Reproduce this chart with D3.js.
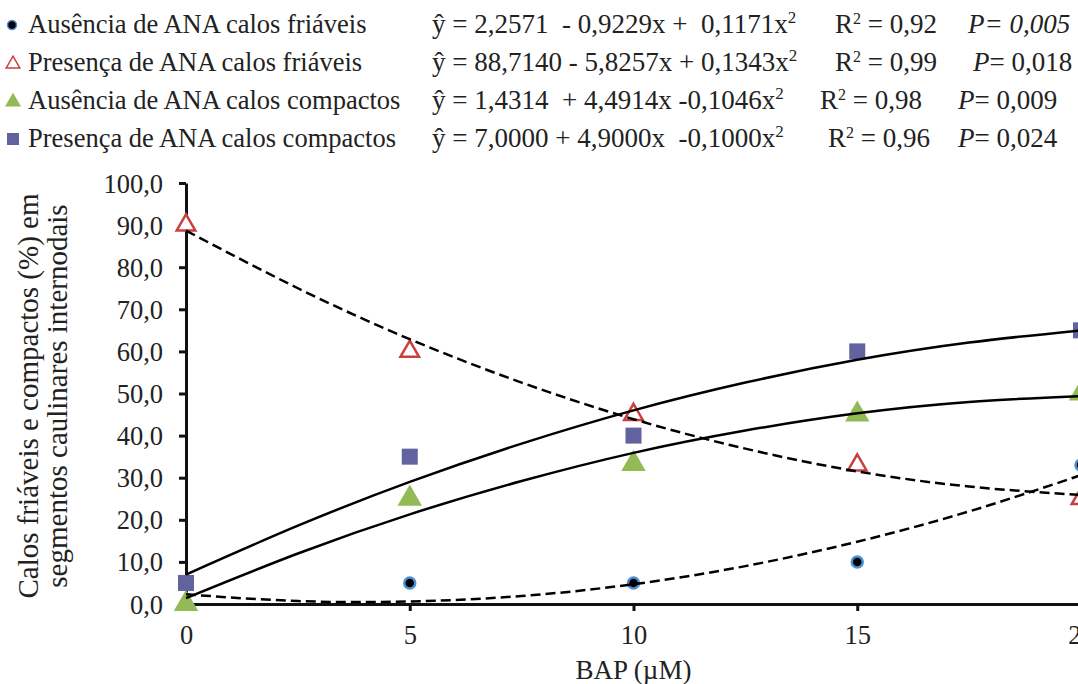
<!DOCTYPE html>
<html>
<head>
<meta charset="utf-8">
<script src="https://cdn.jsdelivr.net/npm/d3@7.9.0/dist/d3.min.js"></script>
<style>
  body { margin: 0; background: #fff; }
  svg { display: block; }
  svg text { white-space: pre; }
</style>
</head>
<body>
<div id="chart"></div>
<script>
// observed points
const doses = [0, 5, 10, 15, 20];
const ausFriaveis = [0, 5, 5, 10, 33];
const presFriaveis = [90, 60, 45, 33, 25];
const ausCompactos = [0, 25, 33.3, 45, 50];
const presCompactos = [5, 35, 40, 60, 65];

// fitted curves
const fitDoses = [0, 2.5, 5, 7.5, 10, 12.5, 15, 17.5, 20];
const fitAusFriaveis = [2.3, 0.7, 0.6, 1.9, 4.7, 9.0, 14.8, 22.0, 30.6];
const fitPresFriaveis = [88.7, 75.0, 62.9, 52.6, 43.9, 36.9, 31.5, 27.9, 25.9];
const fitAusCompactos = [1.4, 12.0, 21.3, 29.2, 35.9, 41.2, 45.3, 48.0, 49.4];
const fitPresCompactos = [7.0, 18.6, 29.0, 38.1, 46.0, 52.6, 58.0, 62.1, 65.0];

const yTicks = [0, 10, 20, 30, 40, 50, 60, 70, 80, 90, 100];
const xTicks = [0, 5, 10, 15, 20];

const labels = [
  'Ausência de ANA calos friáveis',
  'Presença de ANA calos friáveis',
  'Ausência de ANA calos compactos',
  'Presença de ANA calos compactos'
];
const equations = [
  'ŷ = 2,2571  - 0,9229x +  0,1171x',
  'ŷ = 88,7140 - 5,8257x + 0,1343x',
  'ŷ = 1,4314  + 4,4914x -0,1046x',
  'ŷ = 7,0000 + 4,9000x  -0,1000x'
];
const r2Values = ['0,92', '0,99', '0,98', '0,96'];
const pValues = ['0,005', '0,018', '0,009', '0,024'];

const serif = '"Liberation Serif", "Times New Roman", Times, serif';

const width = 1078;
const height = 684;

const svg = d3.select('#chart')
  .append('svg')
  .attr('width', width)
  .attr('height', height)
  .attr('font-family', serif);

const x = d3.scaleLinear().domain([0, 20]).range([186, 1081]);
const y = d3.scaleLinear().domain([0, 100]).range([604, 183]);

const fmt = d => d3.format('.1f')(d).replace('.', ',');

// axes
const yAxis = svg.append('g')
  .attr('transform', `translate(${x(0)},0)`)
  .call(d3.axisLeft(y).tickValues(yTicks).tickSize(7).tickSizeOuter(0).tickPadding(16).tickFormat(fmt));

const xAxis = svg.append('g')
  .attr('transform', `translate(0,${y(0)})`)
  .call(d3.axisBottom(x).tickValues(xTicks).tickSize(7).tickSizeOuter(0).tickPadding(14));

[xAxis, yAxis].forEach(g => {
  g.attr('font-family', serif).attr('font-size', 26.5);
  g.select('.domain').attr('stroke', '#111').attr('stroke-width', 3);
  g.selectAll('.tick line').attr('stroke', '#111').attr('stroke-width', 3);
  g.selectAll('.tick text').attr('fill', '#222');
});
yAxis.selectAll('.tick text').attr('dy', '0.34em');

// axis titles
svg.append('text')
  .attr('x', x(10))
  .attr('y', 679)
  .attr('text-anchor', 'middle')
  .attr('font-size', 27)
  .attr('fill', '#222')
  .text('BAP (µM)');

const yTitle = svg.append('text')
  .attr('transform', `translate(38,396) rotate(-90)`)
  .attr('text-anchor', 'middle')
  .attr('font-size', 29)
  .attr('fill', '#222');
yTitle.append('tspan').attr('x', 0).attr('dy', 0).text('Calos friáveis e compactos (%) em');
yTitle.append('tspan').attr('x', 0).attr('dy', 29).text('segmentos caulinares internodais');

// markers
const tri = d3.symbol().type(d3.symbolTriangle);
const marks = svg.append('g');

marks.selectAll('circle.aus-f')
  .data(d3.zip(doses, ausFriaveis))
  .join('circle')
  .attr('cx', d => x(d[0]))
  .attr('cy', d => y(d[1]))
  .attr('r', 5.5)
  .attr('fill', '#000')
  .attr('stroke', '#4f8fd8')
  .attr('stroke-width', 2.5);

marks.selectAll('path.pres-f')
  .data(d3.zip(doses, presFriaveis))
  .join('path')
  .attr('transform', d => `translate(${x(d[0])},${y(d[1])})`)
  .attr('d', tri.size(150))
  .attr('fill', '#fff')
  .attr('stroke', '#c9403e')
  .attr('stroke-width', 2.5);

marks.selectAll('path.aus-c')
  .data(d3.zip(doses, ausCompactos))
  .join('path')
  .attr('transform', d => `translate(${x(d[0])},${y(d[1])})`)
  .attr('d', tri.size(260))
  .attr('fill', '#93bb55');

marks.selectAll('rect.pres-c')
  .data(d3.zip(doses, presCompactos))
  .join('rect')
  .attr('x', d => x(d[0]) - 8)
  .attr('y', d => y(d[1]) - 8)
  .attr('width', 16)
  .attr('height', 16)
  .attr('fill', '#62629e');

// fitted curves
const line = d3.line()
  .x(d => x(d[0]))
  .y(d => y(d[1]))
  .curve(d3.curveNatural);

const fits = [
  { values: fitAusFriaveis, dash: '10,5' },
  { values: fitPresFriaveis, dash: '10,5' },
  { values: fitAusCompactos, dash: null },
  { values: fitPresCompactos, dash: null }
];

svg.append('g')
  .selectAll('path')
  .data(fits)
  .join('path')
  .attr('d', d => line(d3.zip(fitDoses, d.values)))
  .attr('fill', 'none')
  .attr('stroke', '#000')
  .attr('stroke-width', 2.5)
  .attr('stroke-dasharray', d => d.dash);

// legend
const rowY = [33, 71, 109, 147];
const rX = [835, 835, 820, 828];
const pX = [968, 973, 958, 958];
const legend = svg.append('g')
  .attr('fill', '#222');

labels.forEach((lab, i) => {
  const cy = rowY[i] - 8;
  if (i === 0) {
    legend.append('circle').attr('cx', 12).attr('cy', cy).attr('r', 4.5)
      .attr('fill', '#000').attr('stroke', '#4f8fd8').attr('stroke-width', 1.5);
  } else if (i === 1) {
    legend.append('path').attr('transform', `translate(13,${cy + 1})`)
      .attr('d', tri.size(80)).attr('fill', '#fff').attr('stroke', '#c9403e').attr('stroke-width', 1.5);
  } else if (i === 2) {
    legend.append('path').attr('transform', `translate(13,${cy + 1})`)
      .attr('d', tri.size(110)).attr('fill', '#93bb55');
  } else {
    legend.append('rect').attr('x', 7).attr('y', cy - 6).attr('width', 12).attr('height', 12)
      .attr('fill', '#62629e');
  }

  legend.append('text').attr('x', 28).attr('y', rowY[i]).attr('font-size', 26.5).text(lab);

  const eq = legend.append('text').attr('x', 432).attr('y', rowY[i]).attr('font-size', 27);
  eq.append('tspan').text(equations[i]);
  eq.append('tspan').attr('font-size', 17).attr('dy', -10).text('2');

  const r2 = legend.append('text').attr('x', rX[i]).attr('y', rowY[i]).attr('font-size', 27);
  r2.append('tspan').text('R');
  r2.append('tspan').attr('font-size', 16).attr('dy', -9).text('2');
  r2.append('tspan').attr('dy', 9).text(' = ' + r2Values[i]);

  const p = legend.append('text').attr('x', pX[i]).attr('y', rowY[i]).attr('font-size', 27);
  p.append('tspan').attr('font-style', 'italic').text('P');
  p.append('tspan').attr('font-style', i === 0 ? 'italic' : null).text('= ' + pValues[i]);
});
</script>
</body>
</html>
